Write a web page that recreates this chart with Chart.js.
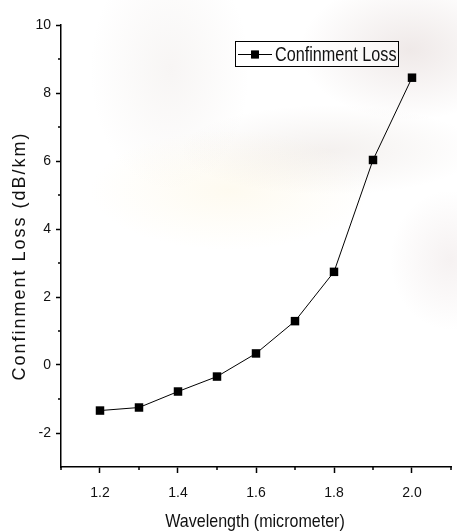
<!DOCTYPE html>
<html>
<head>
<meta charset="utf-8">
<script src="https://cdn.jsdelivr.net/npm/chart.js@4/dist/chart.umd.min.js"></script>
<style>
  html, body { margin: 0; padding: 0; background: #ffffff; }
  #wrap {
    position: relative; width: 457px; height: 531px;
    background:
      radial-gradient(ellipse 110px 70px at 410px 50px, rgba(175,145,140,0.20), rgba(175,145,140,0) 100%),
      radial-gradient(ellipse 150px 45px at 330px 150px, rgba(170,145,130,0.13), rgba(170,145,130,0) 100%),
      radial-gradient(ellipse 140px 60px at 230px 190px, rgba(250,232,180,0.20), rgba(250,232,180,0) 100%),
      radial-gradient(ellipse 80px 120px at 170px 70px, rgba(180,160,150,0.10), rgba(180,160,150,0) 100%),
      radial-gradient(ellipse 60px 70px at 450px 260px, rgba(190,160,160,0.14), rgba(190,160,160,0) 100%),
      #ffffff;
  }
  canvas { display: block; }
</style>
</head>
<body>
<div id="wrap"><canvas id="c" width="457" height="531"></canvas></div>
<script>
// ---- data ----
const wavelengths = [1.2, 1.3, 1.4, 1.5, 1.6, 1.7, 1.8, 1.9, 2.0];
const confinementLoss = [-1.34, -1.25, -0.78, -0.34, 0.34, 1.29, 2.74, 6.03, 8.45];
const seriesLabel = 'Confinment Loss';
const xTickValues = [1.2, 1.4, 1.6, 1.8, 2.0];
const xMinorTickValues = [1.1, 1.3, 1.5, 1.7, 1.9, 2.1];
const yTickValues = [-2, 0, 2, 4, 6, 8, 10];
const yMinorTickValues = [-1, 1, 3, 5, 7, 9];
const xTitle = 'Wavelength (micrometer)';
const yTitle = 'Confinment Loss (dB/km)';

const SANS = '"Liberation Sans", Arial, sans-serif';

const minorTicksPlugin = {
  id: 'minorTicks',
  afterDraw(chart) {
    const ctx = chart.ctx;
    const xs = chart.scales.x, ys = chart.scales.y;
    ctx.save();
    ctx.strokeStyle = '#000';
    ctx.lineWidth = 1.5;
    ctx.beginPath();
    xMinorTickValues.forEach(v => {
      const px = Math.round(xs.getPixelForValue(v));
      ctx.moveTo(px, xs.top);
      ctx.lineTo(px, xs.top + 3);
    });
    yMinorTickValues.forEach(v => {
      const py = Math.round(ys.getPixelForValue(v));
      ctx.moveTo(ys.right, py);
      ctx.lineTo(ys.right - 3, py);
    });
    ctx.stroke();
    ctx.restore();
  }
};

const titlesPlugin = {
  id: 'axisTitles',
  afterDraw(chart) {
    const ctx = chart.ctx;
    const ca = chart.chartArea;
    ctx.save();
    ctx.fillStyle = '#111';
    ctx.font = '18px ' + SANS;
    if ('letterSpacing' in ctx) ctx.letterSpacing = '2px';
    ctx.translate(20, 256);
    ctx.rotate(-Math.PI / 2);
    ctx.textAlign = 'center';
    ctx.textBaseline = 'middle';
    ctx.fillText(yTitle, 0, 0);
    ctx.restore();

    ctx.save();
    ctx.fillStyle = '#111';
    ctx.font = '19px ' + SANS;
    ctx.textAlign = 'center';
    ctx.textBaseline = 'alphabetic';
    ctx.translate((ca.left + ca.right) / 2 - 1, 527);
    ctx.scale(0.845, 1);
    ctx.fillText(xTitle, 0, 0);
    ctx.restore();
  }
};

const legendPlugin = {
  id: 'boxLegend',
  afterDraw(chart) {
    const ctx = chart.ctx;
    const ds = chart.data.datasets[0];
    ctx.save();
    ctx.fillStyle = 'rgba(255,255,255,0.55)';
    ctx.fillRect(235, 41, 164, 26);
    ctx.strokeStyle = '#000';
    ctx.lineWidth = 1;
    ctx.strokeRect(235.5, 41.5, 163, 25);
    const cy = 54;
    ctx.beginPath();
    ctx.moveTo(238, cy + 0.5);
    ctx.lineTo(272, cy + 0.5);
    ctx.stroke();
    ctx.fillStyle = '#000';
    Chart.helpers.drawPoint(ctx, { pointStyle: 'rect', radius: 5.5, borderWidth: 0 }, 255, cy + 0.5);
    ctx.fill();
    ctx.font = '20px ' + SANS;
    ctx.textAlign = 'left';
    ctx.textBaseline = 'middle';
    ctx.fillStyle = '#111';
    ctx.translate(275, cy + 1);
    ctx.scale(0.81, 1);
    ctx.fillText(ds.label, 0, 0);
    ctx.restore();
  }
};

new Chart(document.getElementById('c'), {
  type: 'line',
  data: {
    datasets: [{
      label: seriesLabel,
      data: wavelengths.map((x, i) => ({ x: x, y: confinementLoss[i] })),
      borderColor: '#000',
      borderWidth: 1,
      backgroundColor: '#000',
      pointStyle: 'rect',
      pointRadius: 6,
      pointHoverRadius: 6,
      pointBorderWidth: 0,
      tension: 0,
      fill: false
    }]
  },
  options: {
    responsive: false,
    animation: false,
    events: [],
    layout: { padding: { top: 25, right: 1, left: 0, bottom: 0 } },
    plugins: { legend: { display: false }, tooltip: { enabled: false } },
    scales: {
      x: {
        type: 'linear',
        min: 1.1, max: 2.1,
        afterBuildTicks: s => { s.ticks = xTickValues.map(v => ({ value: v })); },
        afterFit: s => { s.height = 64; },
        ticks: {
          callback: v => Number(v).toFixed(1),
          color: '#111',
          font: { family: SANS, size: 14 },
          padding: 12,
          maxRotation: 0,
          autoSkip: false
        },
        grid: { display: true, drawOnChartArea: false, drawTicks: true, tickLength: 6, tickColor: '#000', tickWidth: 1.5 },
        border: { display: true, color: '#000', width: 1.5 },
        title: { display: false }
      },
      y: {
        type: 'linear',
        min: -3, max: 10,
        afterBuildTicks: s => { s.ticks = yTickValues.map(v => ({ value: v })); },
        afterFit: s => { s.width = 61; },
        ticks: {
          callback: v => String(v),
          color: '#111',
          font: { family: SANS, size: 14 },
          padding: 5,
          autoSkip: false
        },
        grid: { display: true, drawOnChartArea: false, drawTicks: true, tickLength: 5, tickColor: '#000', tickWidth: 1.5 },
        border: { display: true, color: '#000', width: 1.5 },
        title: { display: false }
      }
    }
  },
  plugins: [minorTicksPlugin, titlesPlugin, legendPlugin]
});
</script>
</body>
</html>
